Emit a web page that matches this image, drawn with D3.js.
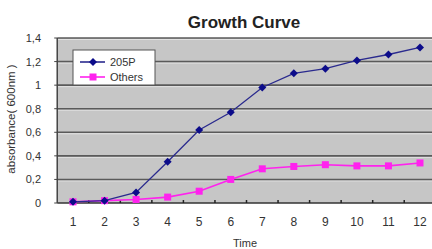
<!DOCTYPE html>
<html><head><meta charset="utf-8">
<script src="https://cdn.jsdelivr.net/npm/d3@7"></script>
<style>body{margin:0;background:#fff}svg{display:block}</style>
</head><body>
<svg id="c" width="432" height="249"></svg>
<script>
const categories = ["1","2","3","4","5","6","7","8","9","10","11","12"];
const series205P = [0.01,0.02,0.09,0.35,0.62,0.77,0.98,1.10,1.14,1.21,1.26,1.32];
const seriesOthers = [0.01,0.02,0.03,0.05,0.10,0.20,0.29,0.31,0.325,0.315,0.315,0.34];
const yTicks = [0,0.2,0.4,0.6,0.8,1,1.2,1.4];
const yTickLabels = ["0","0,2","0,4","0,6","0,8","1","1,2","1,4"];

const svg = d3.select("#c");
const font = "Liberation Sans, Arial, sans-serif";
const x = d3.scalePoint().domain(categories).range([73,420]);
const step = x.step();
const y = d3.scaleLinear().domain([0,1.4]).range([203,38]);
const left = x(categories[0]) - step/2, right = x(categories[11]) + step/2;

svg.append("rect").attr("x",left).attr("y",y(1.4)).attr("width",right-left).attr("height",y(0)-y(1.4)).attr("fill","#c6c6c6");

yTicks.forEach(t=>{
  if(t===0) return;
  svg.append("line").attr("x1",left).attr("x2",right).attr("y1",y(t)+1.5).attr("y2",y(t)+1.5).attr("stroke","#e2e2e2").attr("stroke-width",1);
  svg.append("line").attr("x1",left).attr("x2",right).attr("y1",y(t)).attr("y2",y(t)).attr("stroke","#5a5a5a").attr("stroke-width",1.6);
});

svg.append("line").attr("x1",left).attr("x2",right).attr("y1",y(0)).attr("y2",y(0)).attr("stroke","#333").attr("stroke-width",1.5);
svg.append("line").attr("x1",left).attr("x2",left).attr("y1",y(0)).attr("y2",y(1.4)).attr("stroke","#444").attr("stroke-width",1.5);
categories.forEach((c,i)=>{
  const bx = x(c)+step/2;
  svg.append("line").attr("x1",bx).attr("x2",bx).attr("y1",y(0)-3).attr("y2",y(0)).attr("stroke","#222").attr("stroke-width",1.5);
});
yTicks.forEach(t=>{
  svg.append("line").attr("x1",left-3).attr("x2",left).attr("y1",y(t)).attr("y2",y(t)).attr("stroke","#444").attr("stroke-width",1);
});

svg.append("g").selectAll("text").data(yTicks).join("text")
  .attr("x",41).attr("y",d=>y(d)+4).attr("text-anchor","end")
  .attr("font-family",font).attr("font-size",11).attr("fill","#333")
  .text((d,i)=>yTickLabels[i]);
svg.append("g").selectAll("text").data(categories).join("text")
  .attr("x",d=>x(d)).attr("y",226).attr("text-anchor","middle")
  .attr("font-family",font).attr("font-size",12).attr("fill","#333").text(d=>d);

svg.append("text").attr("x",245).attr("y",247).attr("text-anchor","middle")
  .attr("font-family",font).attr("font-size",11).attr("fill","#333").text("Time");
svg.append("text").attr("transform","translate(15,119) rotate(-90)").attr("text-anchor","middle")
  .attr("font-family",font).attr("font-size",11.5).attr("fill","#333").text("absorbance( 600nm )");
svg.append("text").attr("x",244).attr("y",28).attr("text-anchor","middle")
  .attr("font-family",font).attr("font-size",17).attr("font-weight","bold").attr("fill","#222").text("Growth Curve");

const line = d3.line().x((d,i)=>x(categories[i])).y(d=>y(d));
const blue = "#2a2a8e", pink = "#ff22ee";
svg.append("path").datum(seriesOthers).attr("d",line).attr("fill","none").attr("stroke",pink).attr("stroke-width",1.6);
svg.append("g").selectAll("rect").data(seriesOthers).join("rect")
  .attr("x",(d,i)=>x(categories[i])-3.5).attr("y",d=>y(d)-3.5).attr("width",7).attr("height",7).attr("fill",pink);
svg.append("path").datum(series205P).attr("d",line).attr("fill","none").attr("stroke",blue).attr("stroke-width",1.3);
const dia = "M0,-4L4,0L0,4L-4,0Z";
svg.append("g").selectAll("path").data(series205P).join("path")
  .attr("d",dia).attr("transform",(d,i)=>`translate(${x(categories[i])},${y(d)})`).attr("fill","#0c0c8a");

const lg = svg.append("g");
lg.append("rect").attr("x",73).attr("y",50).attr("width",82).attr("height",35).attr("fill","#fff").attr("stroke","#555").attr("stroke-width",1);
lg.append("line").attr("x1",80).attr("x2",105).attr("y1",62).attr("y2",62).attr("stroke",blue).attr("stroke-width",1.6);
lg.append("path").attr("d",dia).attr("transform","translate(93,62)").attr("fill","#0c0c8a");
lg.append("text").attr("x",110).attr("y",66).attr("font-family",font).attr("font-size",11).attr("fill","#333").text("205P");
lg.append("line").attr("x1",80).attr("x2",105).attr("y1",77).attr("y2",77).attr("stroke",pink).attr("stroke-width",1.6);
lg.append("rect").attr("x",89.5).attr("y",73.5).attr("width",7).attr("height",7).attr("fill",pink);
lg.append("text").attr("x",110).attr("y",81).attr("font-family",font).attr("font-size",11).attr("fill","#333").text("Others");
</script>
</body></html>
